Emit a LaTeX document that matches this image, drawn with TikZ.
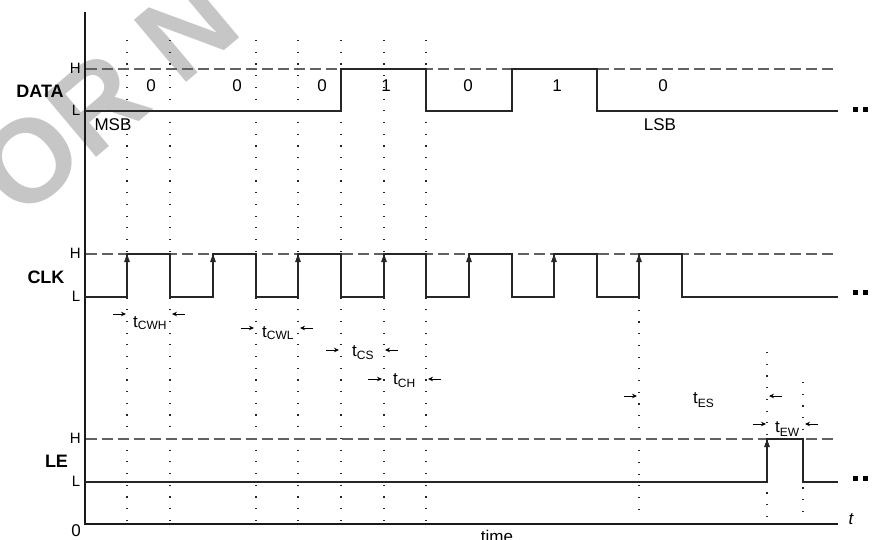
\documentclass[tikz,border=0pt]{standalone}
\usepackage{fontspec}
\setmainfont{Liberation Sans}
\usetikzlibrary{arrows.meta}
\newcommand\tsub[2]{t\raisebox{-#2}{\fontsize{12}{12}\selectfont #1}}
\begin{document}
\begin{tikzpicture}[x=1pt,y=-1pt,
  wave/.style={line width=1.2pt, black!85, line join=miter},
  hline/.style={line width=1.2pt, black!62, dash pattern=on 11pt off 5pt},
  gridln/.style={line width=1.3pt, black!85, dash pattern=on 1.2pt off 10.5pt},
  axis/.style={line width=1.5pt, black!90},
  lvl/.style={font=\fontsize{15}{15}\selectfont, anchor=east, inner sep=0pt},
  sig/.style={font=\bfseries\fontsize{18}{18}\selectfont, inner sep=0pt},
  bit/.style={font=\fontsize{17}{17}\selectfont, inner sep=0pt},
  tarr/.style={line width=0.8pt, black, -{Stealth[length=5pt,width=4.5pt]}},
  risearr/.style={wave, -{Triangle[length=8pt,width=5.5pt]}},
  tlab/.style={font=\fontsize{17}{17}\selectfont, anchor=base west, inner sep=0pt},
  dotsq/.style={fill=black, minimum size=5pt, inner sep=0pt}
]
\useasboundingbox (0,0) rectangle (873,539);
% watermark
\node[rotate=40, anchor=base west, text=gray!45, font=\bfseries\fontsize{118}{118}\selectfont, inner sep=0pt] (wm) at (20,222) {OR N};

% dotted guides
\foreach \x in {127,170,256,298,341,384,426} \draw[gridln] (\x,40) -- (\x,520);
\draw[gridln] (639,298) -- (639,520);
\draw[gridln] (767,352) -- (767,520);
\draw[gridln] (803,382) -- (803,520);

% high-level dashed lines
\foreach \y in {69,254,439} \draw[hline] (86,\y) -- (833,\y);

% axes
\draw[axis] (85,12) -- (85,524) -- (838,524);
\node[bit] (zero) at (76,531) {0};
\node[bit, font=\itshape\fontsize{17}{17}\selectfont] (tax) at (851,519) {t};
\node[bit, anchor=base] (time) at (497,542) {time};

% DATA
\node[sig] (data) at (40,91.5) {DATA};
\node[lvl] (dh) at (81,68) {H};
\node[lvl] (dl) at (80.5,110.5) {L};
\draw[wave] (85,111) -- (341,111) -- (341,69) -- (426,69) -- (426,111) -- (512,111) -- (512,69) -- (597,69) -- (597,111) -- (838,111);
\foreach \x/\b [count=\i] in {151/0,237/0,322/0,386/1,468/0,557/1,663/0} \node[bit] (b\i) at (\x,86) {\b};
\node[bit] (msb) at (113,125) {MSB};
\node[bit] (lsb) at (660,125) {LSB};
\node[dotsq] (dd1) at (855,109.5) {};
\node[dotsq] (dd2) at (865.5,109.5) {};

% CLK
\node[sig] (clk) at (46,277.5) {CLK};
\node[lvl] (ch) at (81,253) {H};
\node[lvl] (cl) at (80.5,296.5) {L};
\draw[wave] (85,297) -- (127,297) -- (127,254) -- (170,254) -- (170,297) -- (213,297) -- (213,254) -- (256,254) -- (256,297) -- (298,297) -- (298,254) -- (341,254) -- (341,297) -- (384,297) -- (384,254) -- (426,254) -- (426,297) -- (469,297) -- (469,254) -- (512,254) -- (512,297) -- (554,297) -- (554,254) -- (597,254) -- (597,297) -- (639,297) -- (639,254) -- (682,254) -- (682,297) -- (838,297);
\foreach \x in {127,213,298,384,469,554,639} \draw[risearr] (\x,297) -- (\x,254);
\node[dotsq] (cd1) at (855,292.5) {};
\node[dotsq] (cd2) at (865.5,292.5) {};

% LE
\node[sig] (le) at (56.5,461.5) {LE};
\node[lvl] (lh) at (81,438) {H};
\node[lvl] (ll) at (80.5,481.5) {L};
\draw[wave] (85,482) -- (767,482) -- (767,439) -- (803,439) -- (803,482) -- (838,482);
\draw[risearr] (767,482) -- (767,439);
\node[dotsq] (ld1) at (855,478.5) {};
\node[dotsq] (ld2) at (865.5,478.5) {};

% timing labels
\node[tlab] (tcwh) at (133,327) {\tsub{CWH}{2pt}};
\draw[tarr] (113,314) -- (126,314);
\draw[tarr] (185,314) -- (172,314);

\node[tlab] (tcwl) at (262,337) {\tsub{CWL}{2pt}};
\draw[tarr] (241,328) -- (254,328);
\draw[tarr] (313,328) -- (300,328);

\node[tlab] (tcs) at (352,356) {\tsub{CS}{3pt}};
\draw[tarr] (326,350) -- (339,350);
\draw[tarr] (398,350) -- (385,350);

\node[tlab] (tch) at (393,384) {\tsub{CH}{3pt}};
\draw[tarr] (368,379) -- (382,379);
\draw[tarr] (441,379) -- (428,379);

\node[tlab] (tes) at (693,403) {\tsub{ES}{4pt}};
\draw[tarr] (624,396) -- (637,396);
\draw[tarr] (782,396) -- (769,396);

\node[tlab] (tew) at (775,432) {\tsub{EW}{4pt}};
\draw[tarr] (753,424) -- (766,424);
\draw[tarr] (818,424) -- (805,424);
\end{tikzpicture}
\end{document}
